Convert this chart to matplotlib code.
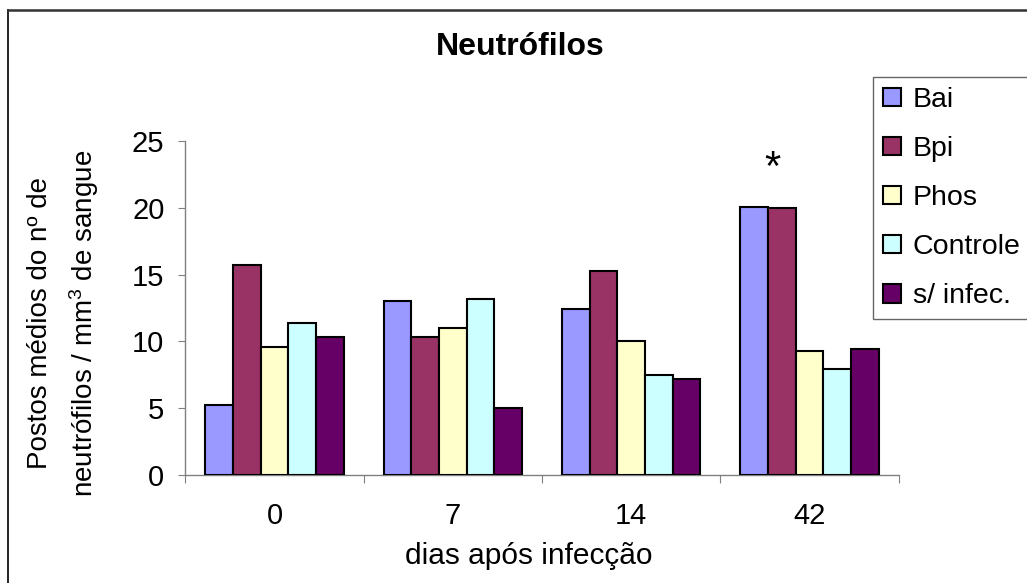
#!/usr/bin/env python3
"""Neutrofilos: postos medios por grupo x dias apos infeccao (barras agrupadas)."""
import numpy as np
import matplotlib
matplotlib.use("Agg")
import matplotlib.pyplot as plt
from matplotlib.lines import Line2D

plt.rcParams["font.family"] = ["Liberation Sans", "DejaVu Sans"]
plt.rcParams["mathtext.fontset"] = "custom"
plt.rcParams["mathtext.rm"] = "Liberation Sans"
plt.rcParams["mathtext.it"] = "Liberation Sans"

# ---- data ----
days = ["0", "7", "14", "42"]
groups = ["Bai", "Bpi", "Phos", "Controle", "s/ infec."]
bai      = [5.2, 13.0, 12.4, 20.1]
bpi      = [15.7, 10.3, 15.3, 20.0]
phos     = [9.6, 11.0, 10.0, 9.3]
controle = [11.4, 13.2, 7.5, 7.9]
s_infec  = [10.3, 5.0, 7.2, 9.4]
series = [bai, bpi, phos, controle, s_infec]
colors = ["#9999FF", "#993366", "#FFFFCC", "#CCFFFF", "#660066"]

star_x, star_y = 2.79, 22.95   # '*' above day 42

W, H = 1027, 583
fig = plt.figure(figsize=(W / 100, H / 100), dpi=100)
ax = fig.add_axes([185.3 / W, 1 - 474.7 / H, (898.7 - 185.3) / W, (474.7 - 141.3) / H])

x = np.arange(len(days))
bw = 0.155
for i, (vals, c, lab) in enumerate(zip(series, colors, groups)):
    ax.bar(x + (i - 2) * bw, vals, bw, color=c, edgecolor="black",
           linewidth=1.5, label=lab, zorder=3)

ax.set_xlim(-0.5, len(days) - 0.5)
ax.set_ylim(0, 25)
ax.set_yticks(range(0, 26, 5))
ax.set_xticks(np.arange(len(days) + 1) - 0.5)
ax.set_xticklabels([])
ax.set_xticks(x, minor=True)
ax.set_xticklabels(days, minor=True)
ax.tick_params(axis="x", which="minor", length=0, pad=20, labelsize=21)
ax.tick_params(axis="x", which="major", length=6, direction="out", color="#808080")
ax.tick_params(axis="y", length=5, direction="out", color="#808080", labelsize=21, pad=10)

for s in ["top", "right"]:
    ax.spines[s].set_visible(False)
for s in ["left", "bottom"]:
    ax.spines[s].set_color("#808080")
    ax.spines[s].set_linewidth(1.0)

fig.text(529 / W, 1 - 556 / H, "dias após infecção", fontsize=21.5,
         ha="center", va="center")
fig.text(64 / W, 1 - 323 / H,
         "Postos médios do nº de\nneutrófilos / mm$^3$ de sangue",
         fontsize=20, rotation=90, ha="center", va="center",
         multialignment="center", linespacing=1.55)

fig.text(520 / W, 1 - 47 / H, "Neutrófilos", fontsize=23, fontweight="bold",
         ha="center", va="center")
ax.text(star_x, star_y, "*", fontsize=30, ha="center", va="center")

leg = ax.legend(loc="upper left", bbox_to_anchor=(873 / W, 1 - 77 / H),
                bbox_transform=fig.transFigure, fontsize=20.5, frameon=True,
                fancybox=False, handlelength=0.63, handleheight=0.63,
                handletextpad=0.42, labelspacing=0.81, borderpad=0.35,
                borderaxespad=0)
leg.get_frame().set_edgecolor("#404040")
leg.get_frame().set_linewidth(1.0)
for p in leg.get_patches():
    p.set_linewidth(1.5)

# outer chart-area border (left and top only visible)
bx, by = 7.5 / W, 1 - 10 / H
fig.add_artist(Line2D([bx, bx], [0, by], transform=fig.transFigure, color="black", lw=1.2))
fig.add_artist(Line2D([bx, 1], [by, by], transform=fig.transFigure, color="#333333", lw=1.8))

fig.savefig("out.png", dpi=100)
